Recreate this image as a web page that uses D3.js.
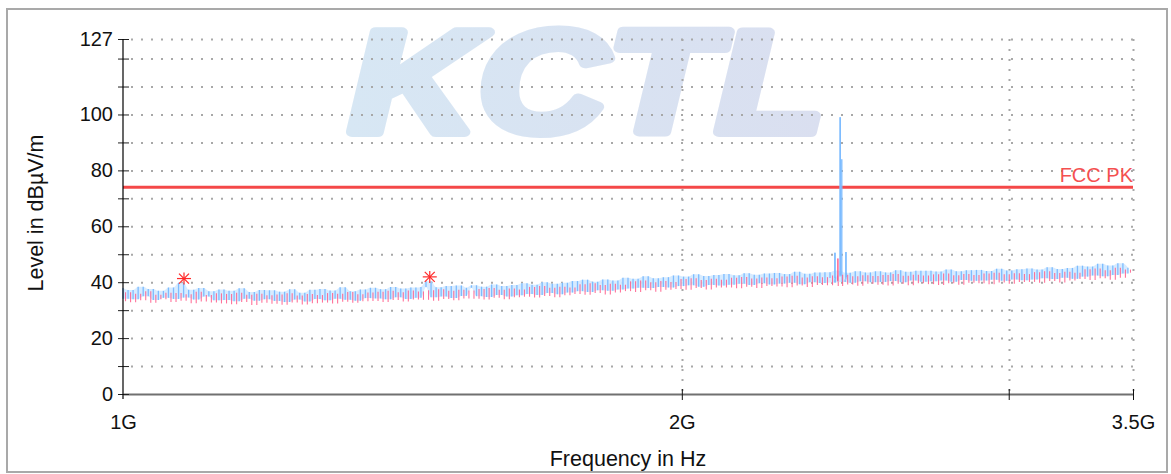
<!DOCTYPE html>
<html>
<head>
<meta charset="utf-8">
<script src="https://cdn.jsdelivr.net/npm/d3@7/dist/d3.min.js"></script>
<style>
  html, body { margin: 0; padding: 0; background: #fff; }
  svg { display: block; }
  text { font-family: "Liberation Sans", Arial, sans-serif; }
</style>
</head>
<body>
<svg id="chart" width="1171" height="474"></svg>
<script>
// ---------------- data ----------------
const sweepStartHz = 1e9;
const sweepStopHz = 3.5e9;

// y axis
const yLabeledTicks = [0, 20, 40, 60, 80, 100, 127];
const yAllTicks = [0, 10, 20, 30, 40, 50, 60, 70, 80, 90, 100, 110, 120, 127];
// x axis
const xTickValues = [1e9, 2e9, 3e9, 3.5e9];
const xTickLabels = ["1G", "2G", "", "3.5G"];

// limit line
const limitName = "FCC PK";
const limitLevel = 74;

// peak (max-hold) trace, dBµV/m, evenly swept 1G..3.5G
const peakLevels = [
  37.9, 34.1, 37.2, 33.9, 38.4, 35.0, 37.6, 33.6, 36.9, 34.4,
  38.1, 34.0, 39.8, 34.5, 37.3, 33.8, 37.9, 34.9, 36.8, 33.5,
  37.4, 33.6, 36.9, 33.2, 37.8, 34.1, 36.5, 33.4, 37.2, 33.9,
  37.1, 33.3, 36.6, 32.9, 37.5, 33.8, 36.2, 33.1, 37.3, 34.0,
  37.6, 33.5, 37.0, 34.1, 38.2, 33.7, 36.8, 33.4, 37.4, 34.3,
  38.0, 34.2, 37.5, 33.9, 38.3, 34.6, 37.7, 34.0, 38.1, 34.4,
  38.3, 40.3, 34.6, 38.2, 34.9, 38.6, 34.3, 38.8, 35.1, 38.0,
  38.9, 35.0, 38.4, 34.7, 39.2, 35.4, 38.6, 34.9, 39.0, 35.3,
  39.6, 35.8, 39.1, 35.4, 40.0, 36.1, 39.4, 35.7, 39.8, 36.3,
  40.4, 36.8, 40.9, 36.5, 40.2, 37.1, 41.0, 36.9, 40.6, 37.4,
  41.6, 37.7, 41.2, 38.0, 42.1, 37.9, 41.4, 38.3, 41.8, 38.1,
  42.4, 38.6, 42.0, 38.9, 42.8, 38.4, 42.2, 39.0, 42.6, 38.8,
  42.9, 39.1, 42.5, 39.4, 43.2, 39.0, 42.7, 39.6, 43.1, 39.2,
  43.3, 39.5, 42.9, 39.8, 43.7, 39.3, 43.0, 40.0, 43.5, 39.7,
  43.6, 39.9, 44.2, 40.1, 43.4, 39.8, 43.9, 40.3, 43.5, 40.0,
  43.9, 40.1, 43.5, 40.4, 44.3, 40.0, 43.7, 40.6, 44.1, 40.2,
  44.1, 40.3, 43.8, 40.6, 44.5, 40.2, 43.9, 40.8, 44.3, 40.5,
  44.4, 40.6, 44.0, 40.9, 44.8, 40.5, 44.2, 41.0, 44.6, 40.7,
  44.9, 41.0, 44.5, 41.4, 45.3, 41.1, 44.7, 41.6, 45.1, 41.2,
  45.9, 42.0, 45.6, 42.4, 46.6, 42.1, 46.0, 42.6, 46.8, 43.1,
  45.2
];
// extra points of the peak trace around the 2.44 GHz carrier
const peakSpikeFreqs = [2.4180e9, 2.4186e9, 2.4200e9, 2.4336e9, 2.4344e9, 2.4356e9, 2.4390e9, 2.4400e9, 2.4512e9, 2.4518e9, 2.4530e9];
const peakSpikeLevels = [41.5, 50.5, 41.0, 42.0, 99.0, 42.5, 84.0, 42.0, 41.0, 50.8, 41.8];

// second (pink) trace
const avgLevels = [
  33.2, 36.4, 32.8, 35.9, 33.5, 36.8, 32.6, 35.5, 33.9, 36.2,
  32.9, 36.1, 33.4, 35.7, 32.5, 36.6, 33.1, 35.4, 32.7, 36.0,
  32.4, 35.8, 32.1, 36.2, 32.9, 35.5, 31.8, 35.9, 32.6, 35.3,
  32.3, 35.6, 31.9, 36.0, 32.7, 35.2, 32.0, 35.8, 32.5, 35.4,
  32.7, 36.1, 32.4, 35.9, 33.0, 36.5, 32.6, 35.7, 33.2, 36.3,
  33.3, 36.6, 32.9, 36.9, 33.6, 36.4, 33.1, 37.0, 33.8, 36.7,
  33.7, 37.1, 33.4, 37.5, 34.0, 36.9, 33.5, 37.3, 34.2, 37.0,
  34.1, 37.6, 33.8, 37.9, 34.4, 37.3, 33.9, 37.7, 34.6, 37.4,
  34.8, 38.3, 34.5, 38.6, 35.1, 38.0, 34.6, 38.4, 35.3, 38.1,
  35.8, 39.3, 35.5, 39.6, 36.1, 39.0, 35.6, 39.4, 36.3, 39.1,
  36.8, 40.3, 36.5, 40.6, 37.1, 40.0, 36.6, 40.4, 37.3, 40.1,
  37.6, 41.1, 37.3, 41.4, 37.9, 40.8, 37.4, 41.2, 38.1, 40.9,
  38.1, 41.6, 37.8, 41.9, 38.4, 41.3, 37.9, 41.7, 38.6, 41.4,
  38.5, 42.0, 38.2, 42.3, 38.8, 41.7, 38.3, 42.1, 39.0, 41.8,
  38.9, 42.4, 38.6, 42.7, 39.2, 42.1, 38.7, 42.5, 39.4, 42.2,
  39.1, 42.6, 38.8, 42.9, 39.4, 42.3, 38.9, 42.7, 39.6, 42.4,
  39.3, 42.8, 39.0, 43.1, 39.6, 42.5, 39.1, 42.9, 39.8, 42.6,
  39.6, 43.1, 39.3, 43.4, 39.9, 42.8, 39.4, 43.2, 40.1, 42.9,
  40.1, 43.6, 39.8, 43.9, 40.4, 43.3, 39.9, 43.7, 40.6, 43.4,
  41.1, 44.6, 40.8, 44.9, 41.4, 44.3, 40.9, 45.2, 41.6, 44.5,
  43.4
];
const avgSpikeFreqs = [2.4268e9, 2.4275e9, 2.4282e9];
const avgSpikeLevels = [40.5, 48.5, 40.2];

// final peak markers
const markerFreqs = [1.0786e9, 1.463e9];
const markerLevels = [41.3, 41.9];

// watermark
const watermarkText = "KCTL";

// ---------------- helpers ----------------
// sample frequencies of a sweep (phase shifts the grid by a fraction of a bin)
function sweep(levels, extraF, extraL, phase) {
  const n = levels.length - 1;
  const ratio = sweepStopHz / sweepStartHz;
  const pts = levels.map((v, i) => ({ f: sweepStartHz * Math.pow(ratio, Math.min(n, i + phase) / n), v }));
  extraF.forEach((f, i) => pts.push({ f, v: extraL[i] }));
  pts.sort((a, b) => a.f - b.f);
  return pts;
}

// ---------------- drawing ----------------
const svg = d3.select("#chart");
const x = d3.scaleLog().domain([sweepStartHz, sweepStopHz]).range([123, 1133]);
const y = d3.scaleLinear().domain([0, 127]).range([394, 39]);

// watermark
const defs = svg.append("defs");
const grad = defs.append("linearGradient").attr("id", "wm").attr("x1", "0").attr("x2", "1");
grad.append("stop").attr("offset", "0").attr("stop-color", "#d7e7f4");
grad.append("stop").attr("offset", "1").attr("stop-color", "#dadff0");
svg.append("text")
  .attr("x", 349).attr("y", 132)
  .attr("textLength", 476).attr("lengthAdjust", "spacingAndGlyphs")
  .style("font-family", "'Liberation Sans', Arial, sans-serif")
  .style("font-size", "144px").style("font-weight", "bold").style("font-style", "italic")
  .attr("fill", "url(#wm)").attr("stroke", "url(#wm)")
  .attr("stroke-width", 10).attr("stroke-linejoin", "round")
  .text(watermarkText);

// frame
svg.append("rect").attr("x", 7).attr("y", 9).attr("width", 1160).attr("height", 463)
  .attr("fill", "none").attr("stroke", "#a9a9a9").attr("stroke-width", 2);

// grid
const gGrid = svg.append("g");
gGrid.selectAll("line.h").data(yAllTicks.filter(d => d > 0)).join("line")
  .attr("x1", x.range()[0]).attr("x2", x.range()[1])
  .attr("y1", d => y(d) + 0.5).attr("y2", d => y(d) + 0.5)
  .attr("stroke", "#a8a8a8").attr("stroke-width", 2).attr("stroke-dasharray", "2,8").attr("stroke-dashoffset", -8);
gGrid.selectAll("line.v").data(xTickValues.slice(1)).join("line")
  .attr("x1", d => Math.round(x(d)) + 0.5).attr("x2", d => Math.round(x(d)) + 0.5)
  .attr("y1", y(127)).attr("y2", y(0))
  .attr("stroke", "#a8a8a8").attr("stroke-width", 2).attr("stroke-dasharray", "2,8");

// limit line
svg.append("line")
  .attr("x1", x.range()[0]).attr("x2", x.range()[1])
  .attr("y1", y(limitLevel)).attr("y2", y(limitLevel))
  .attr("stroke", "#f44848").attr("stroke-width", 3);
svg.append("text")
  .attr("x", x.range()[1]).attr("y", y(limitLevel) - 5)
  .attr("text-anchor", "end").attr("fill", "#f45050")
  .style("font-size", "20px").text(limitName);

// traces
const peakPts = sweep(peakLevels, peakSpikeFreqs, peakSpikeLevels, 0);
const avgPts = sweep(avgLevels, avgSpikeFreqs, avgSpikeLevels, 0.5);
// pale envelope band of the regular peak samples
const basePts = sweep(peakLevels, [], [], 0);
const bandPts = d3.pairs(basePts).map(([a, b]) => ({ f: a.f, lo: Math.min(a.v, b.v), hi: Math.max(a.v, b.v) }));
svg.append("path").datum(bandPts)
  .attr("d", d3.area().x(d => x(d.f)).y0(d => y(d.lo)).y1(d => y(d.hi)).curve(d3.curveMonotoneX))
  .attr("fill", "#d3e9ff").attr("opacity", 0.9);
// trace drawn as dense vertical strokes (max-hold style)
function drawTrace(pts, color, width, opacity) {
  svg.append("g").selectAll("line").data(d3.pairs(pts)).join("line")
    .attr("x1", d => x(d[0].f)).attr("x2", d => x(d[0].f))
    .attr("y1", d => y(d[0].v)).attr("y2", d => y(d[1].v))
    .attr("stroke", color).attr("stroke-width", width).attr("opacity", opacity);
}
drawTrace(peakPts, "#7dbcff", 1.3, 1);
drawTrace(avgPts, "#ff5c8a", 1.1, 0.85);

// markers (asterisks)
const gM = svg.append("g");
markerFreqs.forEach((f, i) => {
  const cx = x(f), cy = y(markerLevels[i]);
  const g = gM.append("g").attr("transform", `translate(${cx},${cy})`)
    .attr("stroke", "#ff2a2a").attr("stroke-width", 1.2);
  [[-7, 0, 7, 0], [0, -6, 0, 6], [-5, -5, 5, 5], [-5, 5, 5, -5]].forEach(s =>
    g.append("line").attr("x1", s[0]).attr("y1", s[1]).attr("x2", s[2]).attr("y2", s[3]));
});

// x axis
const xAxis = d3.axisBottom(x).tickValues(xTickValues)
  .tickFormat((d, i) => xTickLabels[i]).tickSize(6).tickSizeOuter(0).tickPadding(15);
const gx = svg.append("g").attr("transform", `translate(0,${y(0)})`).call(xAxis);
gx.select(".domain").attr("stroke", "#707070").attr("stroke-width", 2);
gx.selectAll(".tick line").attr("y1", -5).attr("stroke", "#111")
  .attr("opacity", (d, i) => i === 0 ? 0 : 1);
gx.selectAll(".tick text").style("font-size", "20px").attr("fill", "#111")
  .style("font-family", "'Liberation Sans', Arial, sans-serif");

// y axis
const yAxis = d3.axisLeft(y).tickValues(yAllTicks)
  .tickFormat(d => yLabeledTicks.includes(d) ? String(d) : "").tickSize(5).tickPadding(5);
const gy = svg.append("g").attr("transform", `translate(${x.range()[0]},0)`).call(yAxis);
gy.select(".domain").remove();
gy.selectAll(".tick line").attr("x1", 6).attr("stroke", "#222");
gy.selectAll(".tick text").style("font-size", "20px").attr("fill", "#111")
  .style("font-family", "'Liberation Sans', Arial, sans-serif");
svg.append("line")
  .attr("x1", x.range()[0]).attr("x2", x.range()[0])
  .attr("y1", y(127)).attr("y2", y(0) + 5)
  .attr("stroke", "#000").attr("stroke-width", 1.2);

// axis titles
svg.append("text")
  .attr("x", 628).attr("y", 466).attr("text-anchor", "middle")
  .style("font-size", "21.5px").attr("fill", "#111").text("Frequency in Hz");
svg.append("text")
  .attr("transform", "translate(43,213) rotate(-90)").attr("text-anchor", "middle")
  .style("font-size", "21.5px").attr("fill", "#111").text("Level in dBµV/m");
</script>
</body>
</html>
